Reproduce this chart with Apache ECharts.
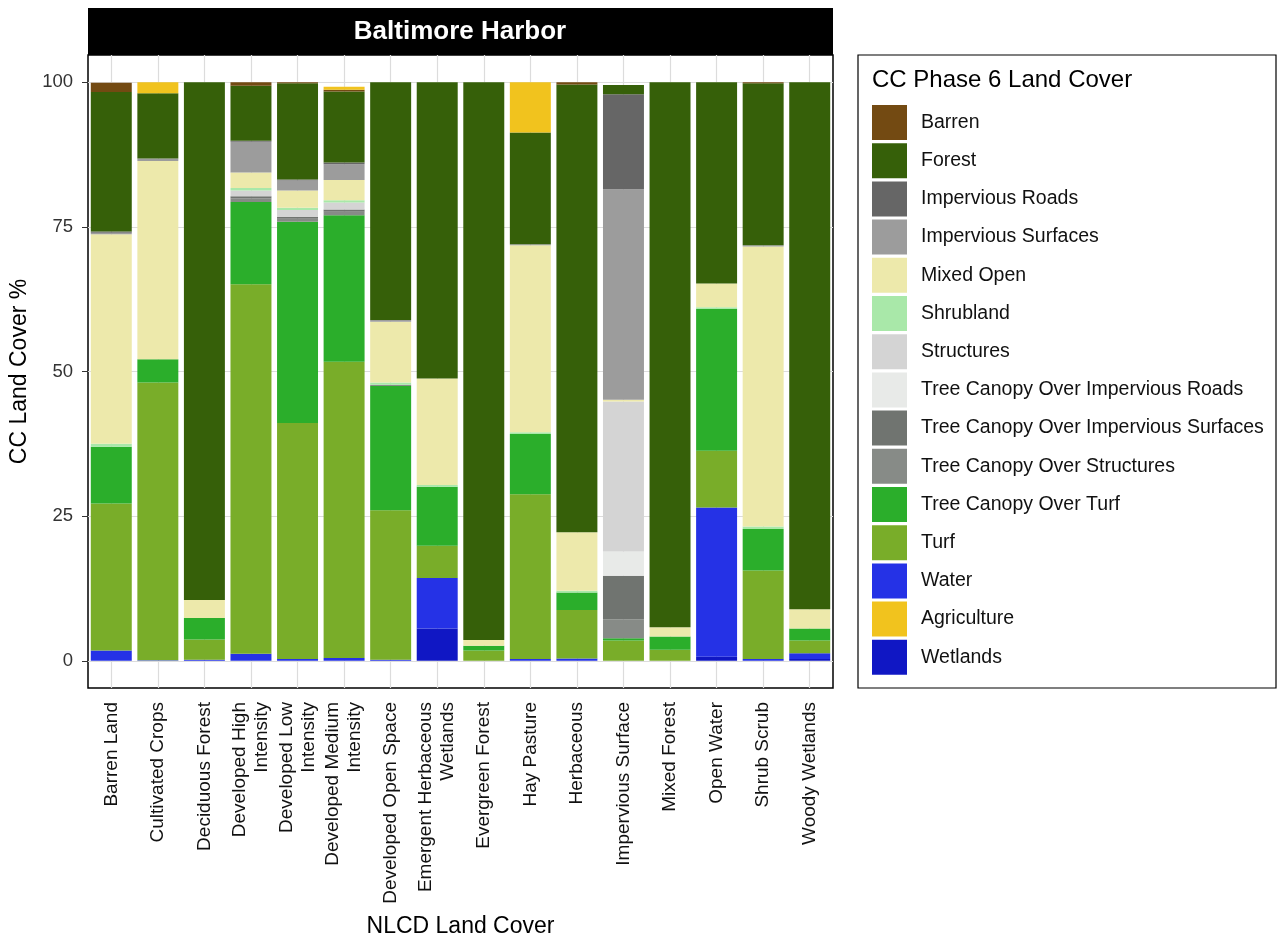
<!DOCTYPE html>
<html>
<head>
<meta charset="utf-8">
<script src="https://cdn.jsdelivr.net/npm/echarts@6/dist/echarts.min.js"></script>
<style>
  html, body { margin: 0; padding: 0; background: #fff; }
  #chart { width: 1278px; height: 937px; }
</style>
</head>
<body>
<div id="chart"></div>
<script>
const categories = [
  'Barren Land', 'Cultivated Crops', 'Deciduous Forest', 'Developed High\nIntensity',
  'Developed Low\nIntensity', 'Developed Medium\nIntensity', 'Developed Open Space',
  'Emergent Herbaceous\nWetlands', 'Evergreen Forest', 'Hay Pasture', 'Herbaceous',
  'Impervious Surface', 'Mixed Forest', 'Open Water', 'Shrub Scrub', 'Woody Wetlands'
]
const yTicks = [0, 25, 50, 75, 100]

// land cover shares (%) per NLCD class, bottom of the stack first
const wetlands      = [0, 0, 0, 0, 0, 0, 0, 5.6, 0, 0, 0, 0, 0, 0.7, 0, 0.3]
const water         = [1.8, 0.1, 0.2, 1.2, 0.3, 0.5, 0.2, 8.7, 0, 0.3, 0.4, 0, 0, 25.8, 0.3, 1.0]
const turf          = [25.4, 48.0, 3.5, 63.9, 40.8, 51.2, 25.8, 5.6, 1.8, 28.5, 8.4, 3.5, 1.9, 9.8, 15.3, 2.2]
const tcTurf        = [9.8, 4.0, 3.7, 14.2, 34.8, 25.3, 21.5, 10.2, 0.8, 10.4, 3.0, 0.4, 2.3, 24.5, 7.2, 2.1]
const tcStructures  = [0, 0, 0, 0.6, 0.5, 0.6, 0.2, 0, 0, 0, 0, 3.3, 0, 0, 0, 0]
const tcImpSurfaces = [0, 0, 0, 0.4, 0.3, 0.4, 0, 0, 0, 0, 0, 7.5, 0, 0, 0, 0]
const tcImpRoads    = [0, 0, 0, 0, 0, 0, 0, 0, 0, 0, 0, 4.2, 0, 0, 0, 0]
const structures    = [0, 0, 0, 1.0, 1.2, 1.2, 0, 0, 0, 0, 0, 25.9, 0, 0, 0, 0]
const shrubland     = [0.5, 0, 0, 0.4, 0.4, 0.4, 0.4, 0.3, 0, 0.3, 0.3, 0, 0, 0.3, 0.4, 0]
const mixedOpen     = [36.2, 34.3, 3.1, 2.7, 3.0, 3.5, 10.5, 18.4, 1.0, 32.3, 10.1, 0.3, 1.6, 4.1, 48.4, 3.3]
const impSurfaces   = [0.3, 0.4, 0, 5.3, 1.7, 2.7, 0.3, 0, 0, 0.2, 0, 36.4, 0, 0, 0.2, 0]
const impRoads      = [0.2, 0, 0, 0.2, 0.2, 0.3, 0, 0, 0, 0, 0, 16.4, 0, 0, 0, 0]
const forest        = [24.1, 11.3, 89.5, 9.5, 16.6, 12.3, 41.1, 51.2, 96.4, 19.3, 77.4, 1.6, 94.2, 34.8, 28.0, 91.1]
const barren        = [1.6, 0, 0, 0.6, 0.2, 0.3, 0, 0, 0, 0, 0.4, 0, 0, 0, 0.2, 0]
const agriculture   = [0, 1.9, 0, 0, 0, 0.5, 0, 0, 0, 8.7, 0, 0, 0, 0, 0, 0]

const layers = [
  ['Wetlands', wetlands, '#1017c4'],
  ['Water', water, '#2532e6'],
  ['Turf', turf, '#79ad29'],
  ['Tree Canopy Over Turf', tcTurf, '#2bae2b'],
  ['Tree Canopy Over Structures', tcStructures, '#878b87'],
  ['Tree Canopy Over Impervious Surfaces', tcImpSurfaces, '#707470'],
  ['Tree Canopy Over Impervious Roads', tcImpRoads, '#e8eae8'],
  ['Structures', structures, '#d4d4d4'],
  ['Shrubland', shrubland, '#a9e8a9'],
  ['Mixed Open', mixedOpen, '#ede9ab'],
  ['Impervious Surfaces', impSurfaces, '#9c9c9c'],
  ['Impervious Roads', impRoads, '#666666'],
  ['Forest', forest, '#366009'],
  ['Barren', barren, '#734a12'],
  ['Agriculture', agriculture, '#f1c31e']
]

const legendOrder = [
  'Barren', 'Forest', 'Impervious Roads', 'Impervious Surfaces', 'Mixed Open', 'Shrubland',
  'Structures', 'Tree Canopy Over Impervious Roads', 'Tree Canopy Over Impervious Surfaces',
  'Tree Canopy Over Structures', 'Tree Canopy Over Turf', 'Turf', 'Water', 'Agriculture', 'Wetlands'
]

const font = 'Liberation Sans, Arial, sans-serif'
const chart = echarts.init(document.getElementById('chart'))

// light grid lines behind the bars
const gridLines = {
  silent: true,
  symbol: 'none',
  z: 1,
  label: { show: false },
  lineStyle: { color: '#dcdcdc', width: 1.2, type: 'solid' },
  emphasis: { disabled: true },
  data: yTicks.map(v => ({ yAxis: v })).concat(categories.map(c => ({ xAxis: c })))
}

const series = layers.map(([name, values, color], i) => ({
  name: name,
  type: 'bar',
  stack: 'total',
  barWidth: '88%',
  z: 3,
  data: values,
  itemStyle: { color: color },
  emphasis: { disabled: true },
  markLine: i === 0 ? gridLines : undefined
}))

const option = {
  animation: false,
  textStyle: { fontFamily: font },
  grid: {
    left: 88, right: 445, top: 55, bottom: 249,
    outerBoundsMode: 'none',
    containLabel: false,
    show: true, borderColor: '#000', borderWidth: 1.5, backgroundColor: '#fff'
  },
  graphic: [
    { type: 'rect', shape: { x: 88, y: 8, width: 745, height: 47 }, style: { fill: '#000' } },
    { type: 'text', x: 460, y: 32, style: { text: 'Baltimore Harbor', fill: '#fff', font: 'bold 26px Liberation Sans, Arial, sans-serif', textAlign: 'center', textVerticalAlign: 'middle' } },
    { type: 'rect', shape: { x: 858, y: 55, width: 418, height: 633 }, style: { fill: '#fff', stroke: '#000', lineWidth: 1.2 }, z: -1 },
    { type: 'text', x: 872, y: 80, style: { text: 'CC Phase 6 Land Cover', fill: '#000', font: '24px Liberation Sans, Arial, sans-serif', textVerticalAlign: 'middle' } }
  ],
  legend: {
    orient: 'vertical',
    left: 872,
    top: 105,
    padding: 0,
    icon: 'rect',
    itemWidth: 35,
    itemHeight: 35,
    itemGap: 3.2,
    selectedMode: false,
    data: legendOrder,
    textStyle: { fontSize: 19.5, color: '#111', fontFamily: font, padding: [0, 0, 0, 9] }
  },
  xAxis: {
    type: 'category',
    data: categories,
    name: 'NLCD Land Cover',
    nameLocation: 'middle',
    nameGap: 227,
    nameTextStyle: { fontSize: 23, color: '#000' },
    axisLine: { show: false },
    axisTick: { show: true, alignWithLabel: true, length: 6, lineStyle: { color: '#333' } },
    axisLabel: { rotate: 90, fontSize: 19, color: '#111', margin: 14, interval: 0, lineHeight: 22 },
    splitLine: { show: false }
  },
  yAxis: {
    type: 'value',
    min: -4.7,
    max: 104.7,
    name: 'CC Land Cover %',
    nameLocation: 'middle',
    nameGap: 53,
    nameTextStyle: { fontSize: 23, color: '#000' },
    axisLine: { show: false },
    axisTick: { show: true, length: 6, lineStyle: { color: '#333' }, customValues: yTicks },
    axisLabel: { fontSize: 18.5, color: '#333', margin: 15, customValues: yTicks },
    splitLine: { show: false }
  },
  series: series
}

chart.setOption(option)
</script>
</body>
</html>
